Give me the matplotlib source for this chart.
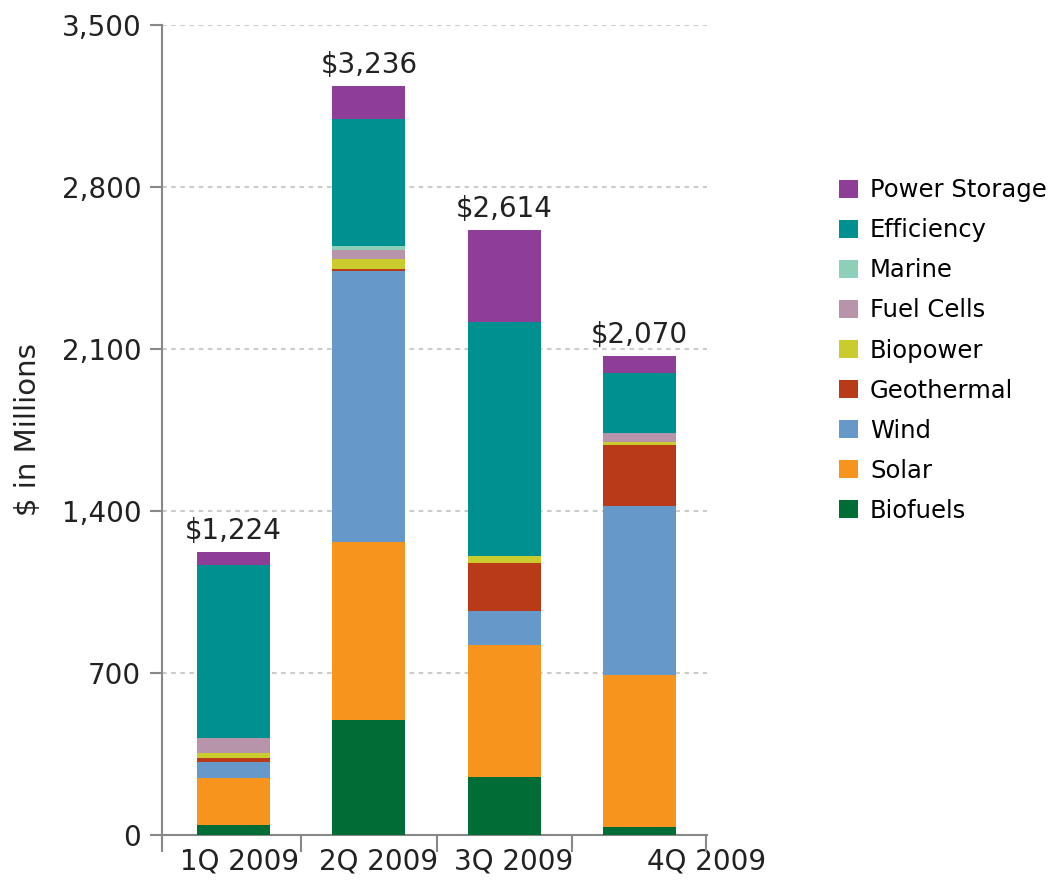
import numpy as np
import matplotlib
matplotlib.use('Agg')
import matplotlib.pyplot as plt
from matplotlib.ticker import FixedLocator, FuncFormatter

plt.rcParams['font.family'] = ['DejaVu Sans']

quarters = ['1Q 2009', '2Q 2009', '3Q 2009', '4Q 2009']
totals = [1224, 3236, 2614, 2070]

# $ millions per sector (bottom to top)
biofuels = [43, 497, 252, 36]
solar = [202, 770, 569, 655]
wind = [69, 1169, 146, 732]
geothermal = [17, 8, 207, 262]
biopower = [24, 44, 33, 15]
fuel_cells = [62, 40, 0, 38]
marine = [0, 17, 0, 0]
efficiency = [749, 549, 1010, 260]
power_storage = [57, 142, 397, 72]

series = [
    ('Biofuels', biofuels, '#006d36'),
    ('Solar', solar, '#f7941e'),
    ('Wind', wind, '#6699c9'),
    ('Geothermal', geothermal, '#b93a19'),
    ('Biopower', biopower, '#c9cc2c'),
    ('Fuel Cells', fuel_cells, '#b894ab'),
    ('Marine', marine, '#8dcfb7'),
    ('Efficiency', efficiency, '#00908f'),
    ('Power Storage', power_storage, '#8e3e96'),
]

fig = plt.figure(figsize=(10.5, 8.83), dpi=100)
ax = fig.add_axes([0.1543, 0.0544, 0.519, 0.9173])

x = np.arange(len(quarters))
bottom = np.zeros(len(quarters))
handles = []
for name, vals, col in series:
    b = ax.bar(x, vals, width=0.54, bottom=bottom, color=col, zorder=3, label=name)
    bottom += np.array(vals)
    handles.append(b)

for xi, t in zip(x, totals):
    ax.annotate(f'${t:,}', (xi, t), xytext=(0, 5), textcoords='offset points',
                ha='center', va='bottom', fontsize=20, color='#222222')

ax.set_xlim(-0.53, 3.49)
ax.set_ylim(0, 3500)
ax.set_yticks([0, 700, 1400, 2100, 2800, 3500])
ax.yaxis.set_major_formatter(FuncFormatter(lambda v, p: f'{int(v):,}'))
ax.tick_params(axis='y', length=9, width=1.5, color='#888888', labelsize=20,
               labelcolor='#222222', pad=6)
ax.grid(axis='y', color='#cccccc', lw=1.5, linestyle=(0, (2.2, 2.2)), zorder=0)
ax.set_axisbelow(True)

# category labels sit off-centre, boundary ticks between categories
ax.set_xticks([0.04, 1.07, 2.07, 3.5])
ax.set_xticklabels(quarters)
ax.tick_params(axis='x', which='major', length=0, labelsize=20, labelcolor='#222222', pad=9)
ax.xaxis.set_minor_locator(FixedLocator([-0.53, 0.5, 1.5, 2.5, 3.49]))
ax.tick_params(axis='x', which='minor', length=12, width=1.5, color='#888888')

for s in ['top', 'right']:
    ax.spines[s].set_visible(False)
for s in ['left', 'bottom']:
    ax.spines[s].set_color('#888888')
    ax.spines[s].set_linewidth(1.5)

ax.set_ylabel('$ in Millions', fontsize=21, color='#222222', labelpad=14)

fig.legend(handles[::-1], [s[0] for s in series][::-1], loc='upper left',
           bbox_to_anchor=(0.799, 0.798), frameon=False, fontsize=17.5,
           handlelength=0.78, handleheight=0.78, handletextpad=0.5,
           labelspacing=0.66, borderpad=0, borderaxespad=0)

fig.savefig('out.png', dpi=100)
